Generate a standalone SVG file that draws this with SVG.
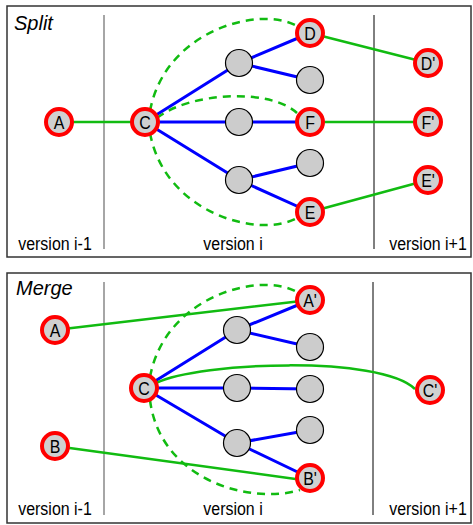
<svg xmlns="http://www.w3.org/2000/svg" width="473" height="525" viewBox="0 0 473 525">
<style>
.panel{fill:#fff;stroke:#333;stroke-width:1.5}
.vl{stroke:#888;stroke-width:1.5}
.vr{stroke:#000;stroke-width:1}
.blue{stroke:#0000ff;stroke-width:3;fill:none}
.green{stroke:#11bb11;stroke-width:2.5;fill:none}
.dash{stroke:#11bb11;stroke-width:2.5;fill:none;stroke-dasharray:8,6}
.red{fill:#d0d0d0;stroke:#ff0000;stroke-width:4}
.gray{fill:#cccccc;stroke:#000;stroke-width:1.2}
text{font-family:"Liberation Sans",Arial,sans-serif;fill:#000}
.lbl{font-size:19px;text-anchor:middle}
.ver{font-size:19px;text-anchor:middle}
.title{font-size:20px;font-style:italic}
</style>
<rect class="panel" x="7" y="6" width="464" height="251"/>
<rect class="panel" x="7" y="273" width="464" height="250"/>
<line class="vl" x1="104" y1="15" x2="104" y2="249"/>
<line class="vr" x1="374" y1="15" x2="374" y2="249"/>
<line class="vl" x1="104" y1="282" x2="104" y2="515"/>
<line class="vr" x1="373" y1="282" x2="373" y2="515"/>
<text class="title" x="14" y="30">Split</text>
<text class="title" x="16" y="295">Merge</text>
<text class="ver" transform="translate(55,250) scale(0.84,1)">version i-1</text>
<text class="ver" transform="translate(233,250) scale(0.84,1)">version i</text>
<text class="ver" transform="translate(428,250) scale(0.84,1)">version i+1</text>
<text class="ver" transform="translate(55,515) scale(0.84,1)">version i-1</text>
<text class="ver" transform="translate(233,515) scale(0.84,1)">version i</text>
<text class="ver" transform="translate(428,515) scale(0.84,1)">version i+1</text>
<g id="connectors">
<path class="blue" d="M145,122 L239,63 M145,122 L239,122 M145,122 L239,180 M239,63 L310,33 M239,63 L310,80 M239,122 L310,122 M239,180 L310,163 M239,180 L310,212"/>
<path class="green" d="M59,122 L145,122 M310,33 L428,63 M310,122 L428,122 M310,212 L428,180"/>
<path class="dash" d="M150,111 C165,30 260,5 297,26"/>
<path class="dash" d="M157,118 C190,92 270,88 297,113"/>
<path class="dash" d="M150,133 C165,214 260,239 297,218"/>
<path class="blue" d="M144,388 L237,330 M144,388 L237,388 M144,388 L237,443 M237,330 L310,300 M237,330 L310,347 M237,388 L310,389 M237,443 L310,430 M237,443 L310,478"/>
<path class="green" d="M55,330 L310,300 M55,446 L310,481"/>
<path class="green" d="M156,383 C200,362 380,355 415,389"/>
<path class="dash" d="M150,377 C165,296 260,271 297,292"/>
<path class="dash" d="M150,400 C160,480 250,505 300,490"/>
</g>
<g id="s-A"><circle class="red" cx="59" cy="122" r="13"/><text class="lbl" transform="translate(59,129) scale(0.84,1)">A</text></g>
<g id="s-C"><circle class="red" cx="145" cy="122" r="13"/><text class="lbl" transform="translate(145,129) scale(0.84,1)">C</text></g>
<g id="s-g1"><circle class="gray" cx="239" cy="63" r="13.5"/></g>
<g id="s-g2"><circle class="gray" cx="239" cy="122" r="13.5"/></g>
<g id="s-g3"><circle class="gray" cx="239" cy="180" r="13.5"/></g>
<g id="s-g4"><circle class="gray" cx="310" cy="80" r="13.5"/></g>
<g id="s-g5"><circle class="gray" cx="310" cy="163" r="13.5"/></g>
<g id="s-D"><circle class="red" cx="310" cy="33" r="13"/><text class="lbl" transform="translate(310,40) scale(0.84,1)">D</text></g>
<g id="s-F"><circle class="red" cx="310" cy="122" r="13"/><text class="lbl" transform="translate(310,129) scale(0.84,1)">F</text></g>
<g id="s-E"><circle class="red" cx="310" cy="212" r="13"/><text class="lbl" transform="translate(310,219) scale(0.84,1)">E</text></g>
<g id="s-D2"><circle class="red" cx="428" cy="63" r="13"/><text class="lbl" transform="translate(428,70) scale(0.84,1)">D'</text></g>
<g id="s-F2"><circle class="red" cx="428" cy="122" r="13"/><text class="lbl" transform="translate(428,129) scale(0.84,1)">F'</text></g>
<g id="s-E2"><circle class="red" cx="428" cy="180" r="13"/><text class="lbl" transform="translate(428,187) scale(0.84,1)">E'</text></g>
<g id="m-A"><circle class="red" cx="55" cy="330" r="13"/><text class="lbl" transform="translate(55,337) scale(0.84,1)">A</text></g>
<g id="m-B"><circle class="red" cx="55" cy="446" r="13"/><text class="lbl" transform="translate(55,453) scale(0.84,1)">B</text></g>
<g id="m-C"><circle class="red" cx="144" cy="388" r="13"/><text class="lbl" transform="translate(144,395) scale(0.84,1)">C</text></g>
<g id="m-g1"><circle class="gray" cx="237" cy="330" r="13.5"/></g>
<g id="m-g2"><circle class="gray" cx="237" cy="388" r="13.5"/></g>
<g id="m-g3"><circle class="gray" cx="237" cy="443" r="13.5"/></g>
<g id="m-g4"><circle class="gray" cx="310" cy="347" r="13.5"/></g>
<g id="m-g5"><circle class="gray" cx="310" cy="389" r="13.5"/></g>
<g id="m-g6"><circle class="gray" cx="310" cy="430" r="13.5"/></g>
<g id="m-A2"><circle class="red" cx="310" cy="300" r="13"/><text class="lbl" transform="translate(310,307) scale(0.84,1)">A'</text></g>
<g id="m-B2"><circle class="red" cx="310" cy="478" r="13"/><text class="lbl" transform="translate(310,485) scale(0.84,1)">B'</text></g>
<g id="m-C2"><circle class="red" cx="430" cy="390" r="13"/><text class="lbl" transform="translate(430,397) scale(0.84,1)">C'</text></g>
</svg>
